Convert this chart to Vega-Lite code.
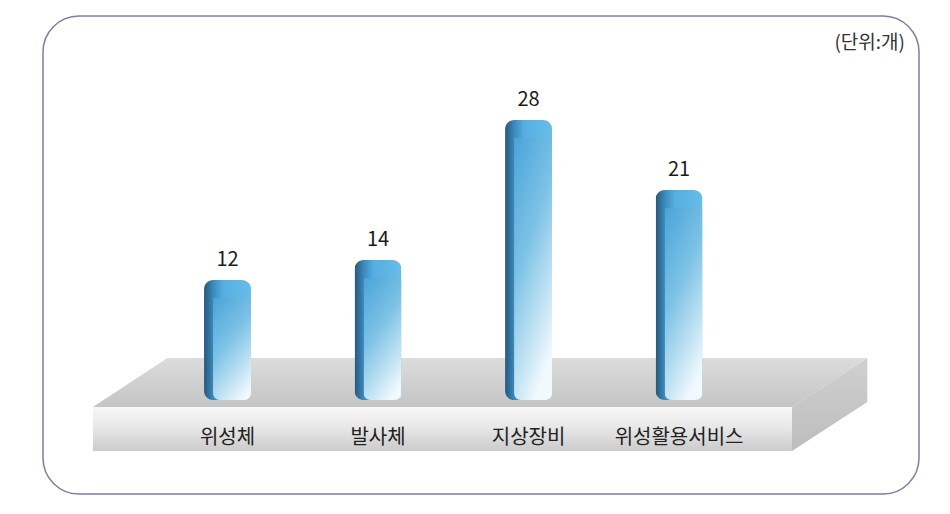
{
  "$schema": "https://vega.github.io/schema/vega-lite/v6.json",
  "width": 876,
  "height": 478,
  "autosize": {"type": "none"},
  "padding": {"left": 43, "top": 16, "right": 31, "bottom": 20},
  "background": "white",
  "config": {
    "view": {"stroke": "#7d7f9c", "strokeWidth": 1.5, "cornerRadius": 36},
    "font": "Noto Sans CJK KR"
  },
  "title": {
    "text": "(단위:개)",
    "anchor": "end",
    "orient": "top",
    "frame": "group",
    "offset": -37,
    "dx": -14,
    "fontSize": 19,
    "fontWeight": "normal",
    "font": "Noto Sans CJK KR",
    "color": "#333333"
  },
  "datasets": {
    "counts": [
      {"category": "위성체", "count": 12},
      {"category": "발사체", "count": 14},
      {"category": "지상장비", "count": 28},
      {"category": "위성활용서비스", "count": 21}
    ],
    "topFace": [
      {"depth": 4.2, "left": 14.2, "right": 94.1},
      {"depth": -0.7, "left": 5.7, "right": 85.5}
    ],
    "sideFace": [
      {"edge": 85.5, "top": -0.7, "bottom": -5.1},
      {"edge": 94.1, "top": 4.2, "bottom": -0.2}
    ],
    "frontFace": [
      {"left": 5.7, "right": 85.5, "top": -0.7, "bottom": -5.1}
    ]
  },
  "resolve": {"scale": {"x": "independent"}, "axis": {"x": "independent"}},
  "layer": [
    {
      "layer": [
        {
          "data": {"name": "topFace"},
          "mark": {"type": "area", "orient": "horizontal", "fill": {"gradient": "linear", "x1": 0, "y1": 0, "x2": 0, "y2": 1, "stops": [{"offset": 0, "color": "#dcdcdc"}, {"offset": 1, "color": "#c4c4c4"}]}},
          "encoding": {
            "y": {"field": "depth", "type": "quantitative", "scale": {"domain": [-9.4, 38.4], "nice": false, "zero": false}, "axis": null},
            "x": {"field": "left", "type": "quantitative", "scale": {"domain": [0, 100], "nice": false, "zero": false}, "axis": null},
            "x2": {"field": "right"}
          }
        },
        {
          "data": {"name": "sideFace"},
          "mark": {"type": "area", "orient": "vertical", "fill": {"gradient": "linear", "x1": 0, "y1": 0, "x2": 0, "y2": 1, "stops": [{"offset": 0, "color": "#d0d0d0"}, {"offset": 1, "color": "#bdbdbd"}]}},
          "encoding": {
            "x": {"field": "edge", "type": "quantitative", "scale": {"domain": [0, 100], "nice": false, "zero": false}, "axis": null},
            "y": {"field": "top", "type": "quantitative", "scale": {"domain": [-9.4, 38.4], "nice": false, "zero": false}, "axis": null},
            "y2": {"field": "bottom"}
          }
        },
        {
          "data": {"name": "frontFace"},
          "mark": {"type": "rect", "fill": {"gradient": "linear", "x1": 0, "y1": 0, "x2": 0, "y2": 1, "stops": [{"offset": 0, "color": "#f7f7f7"}, {"offset": 0.5, "color": "#e6e6e6"}, {"offset": 1, "color": "#cbcbcb"}]}},
          "encoding": {
            "x": {"field": "left", "type": "quantitative", "scale": {"domain": [0, 100], "nice": false, "zero": false}, "axis": null},
            "x2": {"field": "right"},
            "y": {"field": "top", "type": "quantitative", "scale": {"domain": [-9.4, 38.4], "nice": false, "zero": false}, "axis": null},
            "y2": {"field": "bottom"}
          }
        }
      ]
    },
    {
      "data": {"name": "counts"},
      "encoding": {
        "x": {
          "field": "category",
          "type": "nominal",
          "sort": null,
          "scale": {"paddingInner": 0.18, "paddingOuter": 1, "align": 0.408},
          "axis": {
            "title": null,
            "orient": "bottom",
            "offset": -57,
            "zindex": 2,
            "domain": false,
            "ticks": false,
            "labelPadding": 0,
            "labelBaseline": "middle",
            "labelAngle": 0,
            "labelFontSize": 20,
            "labelFont": "Noto Sans CJK KR",
            "labelColor": "#222222"
          }
        },
        "y": {"field": "count", "type": "quantitative", "scale": {"domain": [-9.4, 38.4], "nice": false, "zero": false}, "axis": null}
      },
      "layer": [
        {
          "mark": {"type": "bar", "size": 47, "cornerRadius": 9, "fill": {"gradient": "linear", "x1": 0, "y1": 0, "x2": 1, "y2": 0, "stops": [{"offset": 0, "color": "#28577a"}, {"offset": 0.2, "color": "#3b8bbe"}, {"offset": 0.4, "color": "#56ade0"}, {"offset": 1, "color": "#68bee8"}]}}
        },
        {
          "mark": {"type": "bar", "size": 38, "xOffset": 4.5, "yOffset": 18, "cornerRadius": 7, "fill": {"gradient": "linear", "x1": 0, "y1": 0, "x2": 0.4, "y2": 1, "stops": [{"offset": 0, "color": "#48a4d9"}, {"offset": 0.45, "color": "#7dc2e6"}, {"offset": 1, "color": "#f0f9fd"}]}}
        },
        {
          "mark": {"type": "text", "dy": -10, "baseline": "bottom", "fontSize": 20, "font": "Noto Sans CJK KR", "color": "#1a1a1a"},
          "encoding": {"text": {"field": "count", "type": "quantitative"}}
        }
      ]
    }
  ]
}
